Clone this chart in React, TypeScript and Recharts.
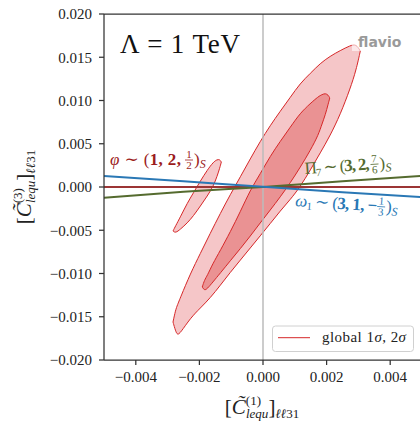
import { ComposedChart, Area, Line, XAxis, YAxis, ReferenceLine } from 'recharts';

// global fit, 2 sigma contour: x, lower edge, upper edge
const outerX = [-0.00283, -0.00275, -0.00269, -0.0026, -0.00228, -0.00197, -0.00166, -0.00134, -0.00103, -0.00071, -0.0004, -0.00009, 0.00023, 0.00054, 0.00086, 0.00117, 0.00149, 0.0018, 0.00211, 0.00243, 0.00274, 0.00293, 0.00306];
const outerLo = [-0.01561, -0.01665, -0.01711, -0.01688, -0.01514, -0.01399, -0.01283, -0.01135, -0.00987, -0.00844, -0.00705, -0.00566, -0.00422, -0.00277, -0.00145, 0.00003, 0.00197, 0.00394, 0.00593, 0.00838, 0.01135, 0.01353, 0.01572];
const outerHi = [-0.01561, -0.01422, -0.01364, -0.01281, -0.00998, -0.00768, -0.00536, -0.00304, -0.00088, 0.00119, 0.00325, 0.00526, 0.00712, 0.00875, 0.01037, 0.01199, 0.01314, 0.0143, 0.01512, 0.01578, 0.01635, 0.01653, 0.01572];

// global fit, 1 sigma contour
const innerX = [-0.00191, -0.00184, -0.00175, -0.00159, -0.00134, -0.00103, -0.00071, -0.0004, -0.00009, 0.00023, 0.00054, 0.00086, 0.00117, 0.00149, 0.00174, 0.00186, 0.00196, 0.00205, 0.0021];
const innerLo = [-0.01156, -0.01197, -0.01175, -0.01105, -0.00994, -0.00853, -0.00712, -0.00568, -0.00416, -0.00266, -0.00116, 0.00049, 0.00227, 0.00424, 0.00601, 0.00734, 0.00834, 0.0096, 0.01029];
const innerHi = [-0.01156, -0.01075, -0.01023, -0.00894, -0.00732, -0.0052, -0.00283, -0.00035, 0.0015, 0.00358, 0.00527, 0.00692, 0.00855, 0.00966, 0.01046, 0.01069, 0.01083, 0.01064, 0.01029];

// small contour next to the phi label
const phiX = [-0.00283, -0.00275, -0.0026, -0.00238, -0.00219, -0.00197, -0.00175, -0.00156, -0.00144, -0.00136, -0.00131];
const phiLo = [-0.00509, -0.00532, -0.00489, -0.00416, -0.00335, -0.0022, -0.00104, 0.00012, 0.00127, 0.0022, 0.00289];
const phiHi = [-0.00509, -0.00451, -0.00347, -0.00185, -0.00069, 0.00069, 0.00197, 0.00289, 0.00318, 0.00318, 0.00289];

// mediator directions
const lineX = [-0.005, -0.0025, 0, 0.0025, 0.005];
const omegaY = [0.00127, 0.00066, 0.00002, -0.0006, -0.00118];
const piY = [-0.00124, -0.00056, 0.0, 0.00066, 0.00128];
const phiLineY = [0, 0, 0, 0, 0];

const xTicks = [-0.004, -0.002, 0, 0.002, 0.004];
const yTicks = [-0.02, -0.015, -0.01, -0.005, 0, 0.005, 0.01, 0.015, 0.02];

const band = (xs: number[], lo: number[], hi: number[]) => xs.map((x, i) => ({ x, range: [lo[i], hi[i]] }));
const pts = (xs: number[], ys: number[]) => xs.map((x, i) => ({ x, y: ys[i] }));
const fmt = (v: number) => (v < 0 ? '\u2212' : '') + Math.abs(v).toFixed(3);

const SERIF = '"Liberation Serif", "DejaVu Serif", serif';
const RED = '#d62728';
const DARKRED = '#9c1c1c';
const GREEN = '#556b2f';
const BLUE = '#2a78b5';

function Frac({ x, y, num, den, color }: { x: number; y: number; num: string; den: string; color: string }) {
  return (
    <g fill={color} fontFamily={SERIF} fontSize={11} textAnchor="middle">
      <text x={x} y={y - 7}>{num}</text>
      <line x1={x - 4} x2={x + 4} y1={y - 5} y2={y - 5} stroke={color} strokeWidth={0.8} />
      <text x={x} y={y + 4}>{den}</text>
    </g>
  );
}

function CLabel({ n }: { n: string }) {
  return (
    <>
      <tspan>[</tspan>
      <tspan fontStyle="italic">C{'\u0303'}</tspan>
      <tspan fontSize={13} dy={-9}>({n})</tspan>
      <tspan fontSize={13} fontStyle="italic" dx={-15} dy={13}>lequ</tspan>
      <tspan dy={-4}>]</tspan>
      <tspan fontSize={13} fontStyle="italic" dy={4}>{'\u2113\u2113'}</tspan>
      <tspan fontSize={13}>31</tspan>
    </>
  );
}

export default function App() {
  return (
    <div style={{ position: 'absolute', left: 0, top: 0, width: 420, height: 422, overflow: 'hidden', background: '#fff' }}>
      <ComposedChart width={430} height={422} margin={{ top: 14, right: 8, bottom: 0, left: 0 }}>
        <XAxis
          dataKey="x"
          type="number"
          domain={[-0.005, 0.005]}
          allowDataOverflow
          ticks={xTicks}
          tickFormatter={fmt}
          height={62}
          tickSize={5}
          tickMargin={6}
          stroke="#333"
          strokeWidth={1.25}
          tick={{ fontFamily: SERIF, fontSize: 15, fill: '#222' }}
        />
        <YAxis
          type="number"
          domain={[-0.02, 0.02]}
          allowDataOverflow
          ticks={yTicks}
          tickFormatter={fmt}
          width={104}
          tickSize={5}
          tickMargin={7}
          stroke="#333"
          strokeWidth={1.25}
          tick={{ fontFamily: SERIF, fontSize: 15, fill: '#222' }}
        />
        <Area data={band(outerX, outerLo, outerHi)} dataKey="range" type="basis" stroke={RED} strokeWidth={1} fill="#f5c6c8" fillOpacity={1} dot={false} activeDot={false} isAnimationActive={false} />
        <Area data={band(innerX, innerLo, innerHi)} dataKey="range" type="basis" stroke={RED} strokeWidth={1} fill="#ea9293" fillOpacity={1} dot={false} activeDot={false} isAnimationActive={false} />
        <Area data={band(phiX, phiLo, phiHi)} dataKey="range" type="basis" stroke={RED} strokeWidth={1} fill="#f5c6c8" fillOpacity={1} dot={false} activeDot={false} isAnimationActive={false} />
        <ReferenceLine x={0} stroke="#bbb" strokeWidth={1.5} />
        <ReferenceLine y={0.02} stroke="#333" strokeWidth={1.25} />
        <Line data={pts(lineX, phiLineY)} dataKey="y" type="linear" stroke="#9c3535" strokeWidth={2} dot={false} activeDot={false} isAnimationActive={false} />
        <Line data={pts(lineX, piY)} dataKey="y" type="monotone" stroke={GREEN} strokeWidth={2} dot={false} activeDot={false} isAnimationActive={false} />
        <Line data={pts(lineX, omegaY)} dataKey="y" type="monotone" stroke={BLUE} strokeWidth={2} dot={false} activeDot={false} isAnimationActive={false} />
      </ComposedChart>

      <svg width={420} height={422} style={{ position: 'absolute', left: 0, top: 0, pointerEvents: 'none' }}>
        <text x={120} y={53} fontFamily={SERIF} fontSize={27} fill="#111" textLength={120} lengthAdjust="spacing">{'\u039b = 1 TeV'}</text>

        <rect x={352} y={32} width={54} height={19} fill="#fff" fillOpacity={0.6} />
        <text x={358} y={47} fontFamily="DejaVu Sans" fontWeight="bold" fontSize={14} fill="#9a9a9a">flavio</text>

        {/* phi label */}
        <text x={110} y={165} fontFamily={SERIF} fontSize={17} fill={DARKRED} textLength={71} lengthAdjust="spacing">
          <tspan fontStyle="italic">{'\u03c6'}</tspan>
          <tspan>{' \u223c ('}</tspan>
          <tspan fontWeight="bold">1, 2,</tspan>
        </text>
        <Frac x={189} y={165} num="1" den="2" color={DARKRED} />
        <text x={194} y={165} fontFamily={SERIF} fontSize={17} fill={DARKRED}>
          )<tspan fontSize={12} fontStyle="italic" dy={3}>S</tspan>
        </text>

        {/* Pi_7 label */}
        <g transform="rotate(-3.9 305 174)">
          <text x={305} y={174} fontFamily={SERIF} fontSize={17} fill={GREEN} textLength={65} lengthAdjust="spacing">
            <tspan>{'\u03a0'}</tspan>
            <tspan fontSize={11} dy={3}>7</tspan>
            <tspan dy={-3}>{' \u223c ('}</tspan>
            <tspan fontWeight="bold">3, 2,</tspan>
          </text>
          <Frac x={375} y={174} num="7" den="6" color={GREEN} />
          <text x={380} y={174} fontFamily={SERIF} fontSize={17} fill={GREEN}>
            )<tspan fontSize={12} fontStyle="italic" dy={3}>S</tspan>
          </text>
        </g>

        {/* omega_1 label */}
        <g transform="rotate(3.8 295 206)">
          <text x={295} y={206} fontFamily={SERIF} fontSize={17} fill={BLUE} textLength={82} lengthAdjust="spacing">
            <tspan fontStyle="italic">{'\u03c9'}</tspan>
            <tspan fontSize={11} dy={3}>1</tspan>
            <tspan dy={-3}>{' \u223c ('}</tspan>
            <tspan fontWeight="bold">{'3, 1, \u2212'}</tspan>
          </text>
          <Frac x={381} y={206} num="1" den="3" color={BLUE} />
          <text x={386} y={206} fontFamily={SERIF} fontSize={17} fill={BLUE}>
            )<tspan fontSize={12} fontStyle="italic" dy={3}>S</tspan>
          </text>
        </g>

        {/* legend */}
        <rect x={272.5} y={326} width={141} height={25.5} rx={3} fill="#fff" fillOpacity={0.85} stroke="#d0d0d0" />
        <line x1={278} x2={310} y1={337.7} y2={337.7} stroke={RED} strokeWidth={1} />
        <text x={322} y={342} fontFamily={SERIF} fontSize={15} fill="#222" textLength={84} lengthAdjust="spacing">
          global 1<tspan fontStyle="italic">{'\u03c3'}</tspan>, 2<tspan fontStyle="italic">{'\u03c3'}</tspan>
        </text>

        {/* axis titles */}
        <text x={262} y={414} fontFamily={SERIF} fontSize={21} fill="#222" textAnchor="middle">
          <CLabel n="1" />
        </text>
        <text x={31} y={187} fontFamily={SERIF} fontSize={21} fill="#222" textAnchor="middle" transform="rotate(-90 31 187)">
          <CLabel n="3" />
        </text>
      </svg>
    </div>
  );
}
